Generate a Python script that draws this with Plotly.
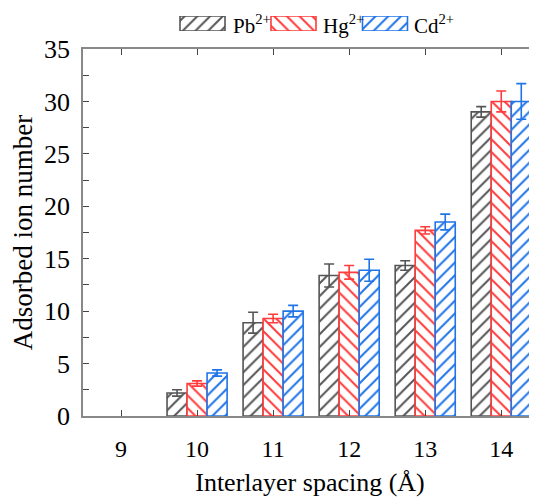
import plotly.graph_objects as go

spacing = [9, 10, 11, 12, 13, 14]
pb = [None, 2.2, 8.9, 13.4, 14.35, 29.0]
pb_err = [0, 0.3, 1.0, 1.1, 0.45, 0.5]
hg = [None, 3.1, 9.3, 13.7, 17.7, 30.0]
hg_err = [0, 0.25, 0.4, 0.65, 0.35, 1.0]
cd = [None, 4.1, 10.0, 13.9, 18.5, 30.0]
cd_err = [0, 0.3, 0.55, 1.05, 0.75, 1.7]
y_ticks = [0, 5, 10, 15, 20, 25, 30, 35]

series = [
    ("Pb<sup>2+</sup>", pb, pb_err, "#555555", "/"),
    ("Hg<sup>2+</sup>", hg, hg_err, "#ff3b3b", "\\"),
    ("Cd<sup>2+</sup>", cd, cd_err, "#1f74e8", "/"),
]

font = "Liberation Serif, Times New Roman, serif"
# page body has an 8px margin, so the figure is sized to fit the window
W, H = 529, 492
ML, MR, MT, MB = 75, 0, 0, 84
plot_h = H - MT - MB
main_top = (H - MB - 41) / plot_h

fig = go.Figure()
for name, vals, errs, col, shp in series:
    fig.add_trace(go.Bar(
        x=spacing, y=vals, name=name, showlegend=False,
        marker=dict(color="white", line=dict(color=col, width=1.6),
                    pattern=dict(shape=shp, fgcolor=col, bgcolor="white",
                                 fillmode="replace", size=9, solidity=0.22)),
        error_y=dict(type="data", array=errs, visible=True, color=col,
                     thickness=1.6, width=5),
    ))

# legend swatches on an auxiliary axis placed above the plot
leg_x = [194.5, 285.5, 377]
leg_text_x = [223, 313, 404]
for i, (name, vals, errs, col, shp) in enumerate(series):
    fig.add_trace(go.Bar(
        x=[leg_x[i]], y=[1], width=[45], base=0, xaxis="x2", yaxis="y2",
        showlegend=False, hoverinfo="skip",
        marker=dict(color="white", line=dict(color=col, width=1.6),
                    pattern=dict(shape=shp, fgcolor=col, bgcolor="white",
                                 fillmode="replace", size=9, solidity=0.22)),
    ))
    fig.add_annotation(x=leg_text_x[i], y=0.45, xref="x2", yref="y2",
                       text=name, showarrow=False, xanchor="left", yanchor="middle",
                       font=dict(family=font, size=21, color="black"))

leg_bot = (H - MB - 23) / plot_h
leg_top = (H - MB - 8) / plot_h

fig.update_layout(
    width=W, height=H,
    barmode="group", bargap=0.21, bargroupgap=0,
    plot_bgcolor="white", paper_bgcolor="white",
    margin=dict(l=ML, r=MR, t=MT, b=MB),
    font=dict(family=font, size=22, color="black"),
    showlegend=False,
    xaxis=dict(
        domain=[0, 1], anchor="y",
        range=[8.5, 14.47], tickvals=spacing, ticktext=[str(v) for v in spacing],
        ticks="inside", ticklen=6, tickwidth=1.2, tickcolor="#444",
        showline=True, linecolor="#888", linewidth=1.5, mirror="ticks",
        showgrid=False, zeroline=False, ticklabelstandoff=10, automargin=False,
        tickfont=dict(size=24),
        title=dict(text="Interlayer spacing (Å)", font=dict(size=26), standoff=12),
    ),
    yaxis=dict(
        domain=[0, main_top], anchor="x",
        range=[0, 35], tickvals=y_ticks,
        ticks="inside", ticklen=6, tickwidth=1.2, tickcolor="#444",
        minor=dict(tickvals=[2.5, 7.5, 12.5, 17.5, 22.5, 27.5, 32.5],
                   ticks="inside", ticklen=6, tickcolor="#444", tickwidth=1.2),
        showline=True, linecolor="#888", linewidth=1.5, mirror="ticks",
        showgrid=False, zeroline=False, ticklabelstandoff=6, automargin=False,
        tickfont=dict(size=26),
        title=dict(text="Adsorbed ion number", font=dict(size=27), standoff=4),
    ),
    xaxis2=dict(domain=[0, 1], range=[ML, W], anchor="y2", visible=False,
                fixedrange=True),
    yaxis2=dict(domain=[leg_bot, leg_top], range=[0, 1], anchor="x2",
                visible=False, fixedrange=True),
)
fig.write_html("out.html")
